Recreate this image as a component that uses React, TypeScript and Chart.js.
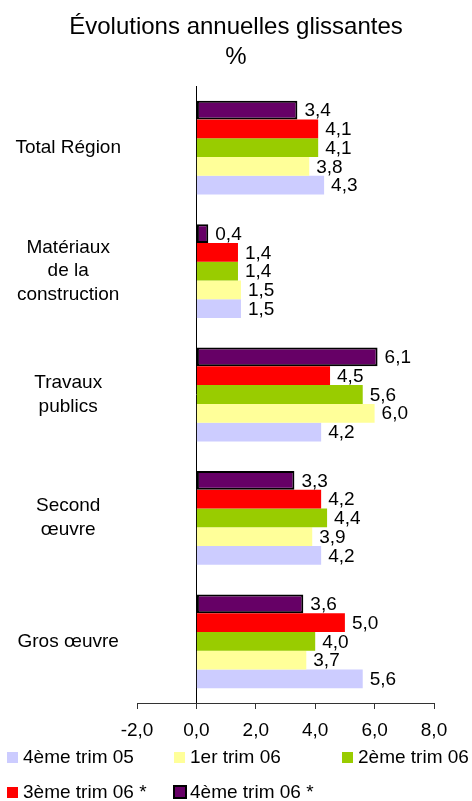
import React, { useEffect, useRef } from "react";
import { Chart, registerables } from "chart.js";

Chart.register(...registerables);

// Categories, top to bottom
const categories: (string | string[])[] = [
  "Total Région",
  ["Matériaux", "de la", "construction"],
  ["Travaux", "publics"],
  ["Second", "œuvre"],
  "Gros œuvre",
];

// Series (values per category, top to bottom)
const trim4_05 = [4.3, 1.5, 4.2, 4.2, 5.6];
const trim1_06 = [3.8, 1.5, 6.0, 3.9, 3.7];
const trim2_06 = [4.1, 1.4, 5.6, 4.4, 4.0];
const trim3_06 = [4.1, 1.4, 4.5, 4.2, 5.0];
const trim4_06 = [3.4, 0.4, 6.1, 3.3, 3.6];

const seriesLabels = ["4ème trim 05", "1er trim 06", "2ème trim 06", "3ème trim 06 *", "4ème trim 06 *"];
const seriesColors = ["#CCCCFF", "#FFFF99", "#99CC00", "#FF0000", "#660066"];
const seriesBorders = [0, 0, 0, 0, 2];

const xTickMin = -2;
const xTickMax = 8;
const xTickStep = 2;

const titleLines = ["Évolutions annuelles glissantes", "%"];

const FONT = "'Liberation Sans', Arial, sans-serif";

const fmt = (v: number) => v.toFixed(1).replace(".", ",");

export default function App() {
  const canvasRef = useRef<HTMLCanvasElement | null>(null);

  useEffect(() => {
    const canvas = canvasRef.current;
    if (!canvas) return;

    const seriesData = [trim4_05, trim1_06, trim2_06, trim3_06, trim4_06];
    // datasets ordered top-to-bottom within each group (reverse of legend order)
    const order = [4, 3, 2, 1, 0];
    const datasets = order.map((i) => ({
      label: seriesLabels[i],
      data: seriesData[i],
      backgroundColor: seriesColors[i],
      borderColor: "#000000",
      borderWidth: seriesBorders[i],
      borderSkipped: false as const,
      categoryPercentage: 0.76,
      barPercentage: 1.0,
    }));

    const valueLabels = {
      id: "valueLabels",
      afterDatasetsDraw(chart: any) {
        const ctx = chart.ctx;
        ctx.save();
        ctx.font = `19px ${FONT}`;
        ctx.fillStyle = "#000";
        ctx.textAlign = "left";
        ctx.textBaseline = "middle";
        chart.data.datasets.forEach((ds: any, di: number) => {
          const meta = chart.getDatasetMeta(di);
          meta.data.forEach((el: any, j: number) => {
            ctx.fillText(fmt(ds.data[j]), el.x + 7, el.y + 1);
          });
        });
        ctx.restore();
      },
    };

    const customLegend = {
      id: "customLegend",
      afterDraw(chart: any) {
        const ctx = chart.ctx;
        const colX = [7, 174, 342];
        const rowY = [752, 787];
        const n = chart.data.datasets.length;
        ctx.save();
        ctx.font = `19px ${FONT}`;
        ctx.textAlign = "left";
        ctx.textBaseline = "middle";
        for (let k = 0; k < n; k++) {
          const ds = chart.data.datasets[n - 1 - k];
          const col = k % 3;
          const row = Math.floor(k / 3);
          const bx = colX[col];
          const by = rowY[row];
          ctx.fillStyle = ds.backgroundColor;
          if (ds.borderWidth > 0) {
            ctx.fillRect(bx, by - 1, 12, 12);
            ctx.strokeStyle = "#000";
            ctx.lineWidth = 2;
            ctx.strokeRect(bx, by - 1, 12, 12);
          } else {
            ctx.fillRect(bx, by, 11, 11);
          }
          ctx.fillStyle = "#000";
          ctx.fillText(ds.label, bx + 16, by + 5.5);
        }
        ctx.restore();
      },
    };

    const chart = new Chart(canvas, {
      type: "bar",
      data: { labels: categories, datasets },
      options: {
        indexAxis: "y",
        animation: false,
        responsive: true,
        maintainAspectRatio: false,
        layout: { padding: 0 },
        plugins: {
          legend: { display: false },
          tooltip: { enabled: false },
          title: {
            display: true,
            text: titleLines,
            color: "#000",
            font: { family: FONT, size: 24, weight: "normal", lineHeight: 1.25 },
            padding: { top: 12, bottom: 14 },
          },
        },
        scales: {
          x: {
            min: xTickMin,
            max: xTickMax,
            ticks: {
              stepSize: xTickStep,
              color: "#000",
              font: { family: FONT, size: 19 },
              padding: 10,
              callback: (v: any) => fmt(Number(v)),
            },
            grid: {
              drawOnChartArea: true,
              color: (c: any) => (c.tick && c.tick.value === 0 ? "#000" : "rgba(0,0,0,0)"),
              tickColor: "#333",
              tickLength: 6,
              lineWidth: 1,
            },
            border: { display: true, color: "#333", width: 1 },
            afterFit: (scale: any) => {
              scale.height = 98;
              scale.paddingLeft = 0;
              scale.paddingRight = 38;
            },
          },
          y: {
            ticks: {
              color: "#000",
              font: { family: FONT, size: 19, lineHeight: 1.25 },
              crossAlign: "center",
              padding: 16,
            },
            grid: { display: false, drawTicks: false },
            border: { display: false },
            afterFit: (scale: any) => {
              scale.width = 137;
            },
          },
        },
      },
      plugins: [valueLabels, customLegend],
    });

    return () => chart.destroy();
  }, []);

  return (
    <div style={{ position: "fixed", left: 0, top: 0, width: 472, height: 801, background: "#fff" }}>
      <canvas ref={canvasRef} />
    </div>
  );
}
